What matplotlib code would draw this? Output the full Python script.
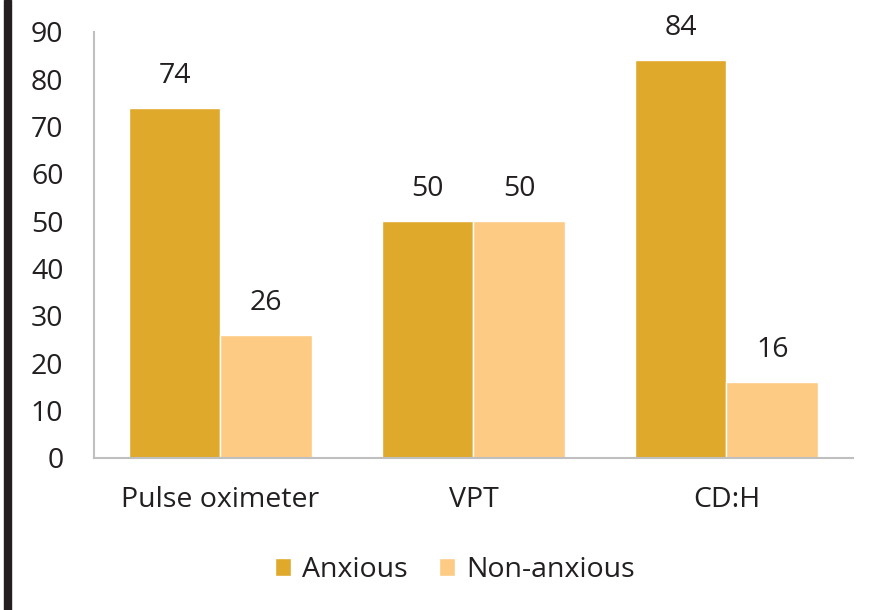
import matplotlib
matplotlib.use("Agg")
import matplotlib.pyplot as plt
import numpy as np
from matplotlib.patches import Rectangle

categories = ["Pulse oximeter", "VPT", "CD:H"]
anxious = [74, 50, 84]
non_anxious = [26, 50, 16]
series_names = ["Anxious", "Non-anxious"]
yticks = [0, 10, 20, 30, 40, 50, 60, 70, 80, 90]

plt.rcParams['font.family'] = ['Open Sans', 'DejaVu Sans']
FS = 20.5

fig = plt.figure(figsize=(8.7, 6.1), dpi=100)
ax = fig.add_axes([94/870, 1-458/610, (853-94)/870, (458-32)/610])

x = np.arange(len(categories))
w = 0.362
c1 = "#DFA92C"
c2 = "#FDCB84"
b1 = ax.bar(x - w/2, anxious, w, color=c1, edgecolor="white", linewidth=1, label=series_names[0])
b2 = ax.bar(x + w/2, non_anxious, w, color=c2, edgecolor="white", linewidth=1, label=series_names[1])

for bars, vals in ((b1, anxious), (b2, non_anxious)):
    for r, v in zip(bars, vals):
        ax.annotate(f"{v}", (r.get_x() + r.get_width()/2, v), xytext=(0, 13),
                    textcoords="offset points", ha="center", va="bottom",
                    fontsize=FS, color="#231f20")

ax.set_xlim(-0.5, 2.5)
ax.set_ylim(0, 90)
ax.set_yticks(yticks)
ax.set_yticklabels([str(t) for t in yticks], fontsize=FS, color="#231f20")
ax.set_xticks(x)
ax.set_xticklabels(categories, fontsize=FS, color="#231f20")
ax.tick_params(axis="y", length=0, pad=22)
ax.tick_params(axis="x", length=0, pad=20)
for s in ["top", "right"]:
    ax.spines[s].set_visible(False)
for s in ["left", "bottom"]:
    ax.spines[s].set_color("#bfbfbf")
    ax.spines[s].set_linewidth(1.5)

leg = fig.legend(handles=[b1, b2], labels=series_names, loc="center", bbox_to_anchor=(455/870, 1-570/610),
                 ncol=2, frameon=False, fontsize=FS, handlelength=0.55, handleheight=0.55,
                 handletextpad=0.4, columnspacing=1.1)
for t in leg.get_texts():
    t.set_color("#231f20")

fig.patches.append(Rectangle((4/870, 0), 7/870, 1, transform=fig.transFigure, color="#231f20"))

fig.savefig("out.png", dpi=100)
